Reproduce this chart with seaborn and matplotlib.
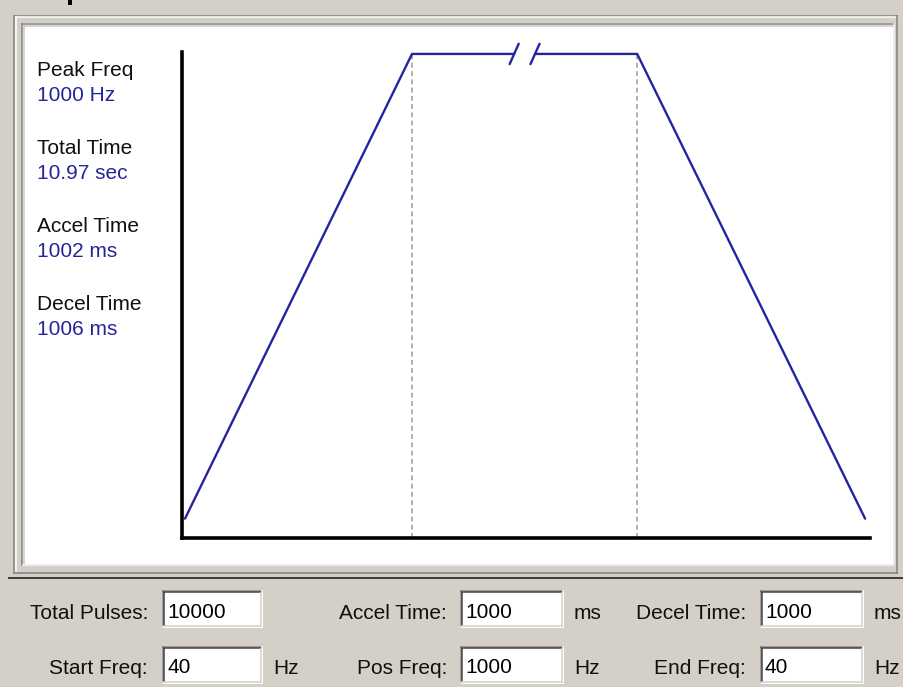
import numpy as np
import pandas as pd
import matplotlib
matplotlib.use("Agg")
import matplotlib.pyplot as plt
import seaborn as sns
from matplotlib.patches import Rectangle
from matplotlib.lines import Line2D

# ---------------- data ----------------
start_freq_hz = 40
peak_freq_hz = 1000
end_freq_hz = 40
accel_time_ms = 1002
decel_time_ms = 1006
plateau_display_ms = 994      # constant-speed span, drawn compressed (axis break)
break_gap_ms = 92

info_labels = ["Peak Freq", "Total Time", "Accel Time", "Decel Time"]
info_values = ["1000 Hz", "10.97 sec", "1002 ms", "1006 ms"]

field_labels = [["Total Pulses:", "Accel Time:", "Decel Time:"],
                ["Start Freq:", "Pos Freq:", "End Freq:"]]
field_values = [["10000", "1000", "1000"],
                ["40", "1000", "40"]]
field_units = [["", "ms", "ms"],
               ["Hz", "Hz", "Hz"]]

# ---------------- style ----------------
sns.set_style("white")
plt.rcParams["font.family"] = ["Liberation Sans", "DejaVu Sans"]
W, H = 904, 687
BG = "#D4D0C8"
LINE_BLUE = "#24249F"
TEXT_BLUE = "#25259A"
FS = 15

fig = plt.figure(figsize=(W / 100, H / 100), dpi=100, facecolor=BG)


def fx(x):
    return x / W


def fy(y):
    return 1 - y / H


def hline(x0, x1, y, color, lw=1.0):
    fig.add_artist(Line2D([fx(x0), fx(x1)], [fy(y), fy(y)], transform=fig.transFigure,
                          color=color, lw=lw * 0.72, solid_capstyle="butt", zorder=-2))


def vline(x, y0, y1, color, lw=1.0):
    fig.add_artist(Line2D([fx(x), fx(x)], [fy(y0), fy(y1)], transform=fig.transFigure,
                          color=color, lw=lw * 0.72, solid_capstyle="butt", zorder=-2))


def rect(x0, y0, x1, y1, color):
    fig.add_artist(Rectangle((fx(x0), fy(y1)), fx(x1) - fx(x0), fy(y0) - fy(y1),
                             transform=fig.transFigure, facecolor=color, edgecolor="none",
                             zorder=-3))


# ---- group frame (etched) ----
hline(14, 898, 15.5, "#808080", 1.5)
vline(14.5, 15, 574, "#808080", 1.5)
hline(15, 898, 17, "#FFFFFF", 1.5)
vline(16, 16, 572, "#FFFFFF", 1.5)
hline(14, 898, 573, "#808080", 1.5)
vline(897, 15, 574, "#808080", 1.5)
# bottom separator
hline(8, 904, 578, "#404040", 2.0)

# ---- sunken white panel ----
rect(22, 23, 895, 566, "#FFFFFF")
hline(22, 895, 23.5, "#808080", 1.5)
vline(22.5, 23, 566, "#808080", 1.5)
hline(24, 893, 25.5, "#C8C8C8", 1.5)
vline(24.5, 25, 564, "#C8C8C8", 1.5)
hline(22, 895, 565, "#E8E8E8", 1.5)
vline(894, 23, 566, "#E8E8E8", 1.5)

# ---------------- profile axes ----------------
px_per_ms = (412 - 185) / accel_time_ms
x_left = -(185 - 182) / px_per_ms
x_right = (870 - 185) / px_per_ms
ax = fig.add_axes([fx(182), fy(538), fx(870) - fx(182), fy(52) - fy(538)])
ax.set_facecolor("none")
ax.set_zorder(5)

t_peak = accel_time_ms
t_flat_end = t_peak + plateau_display_ms
t_mid = (t_peak + t_flat_end) / 2
t_end = t_flat_end + decel_time_ms
gap_l = t_mid - break_gap_ms / 2
gap_r = t_mid + break_gap_ms / 2

df = pd.DataFrame({
    "t": [0, t_peak, gap_l, gap_r, t_flat_end, t_end],
    "freq": [start_freq_hz, peak_freq_hz, peak_freq_hz, peak_freq_hz, peak_freq_hz, end_freq_hz],
    "seg": [0, 0, 0, 1, 1, 1],
})
sns.lineplot(data=df, x="t", y="freq", units="seg", estimator=None, color=LINE_BLUE,
             lw=1.7, ax=ax, legend=False, sort=False)

# dashed markers at end of accel / start of decel
for tx in (t_peak, t_flat_end):
    ax.plot([tx, tx], [0, peak_freq_hz], color="#9A9A9A", lw=1.1, dashes=(3.2, 2.2), zorder=1)

# break slashes
dy = 21
dx = 20
for tx in (gap_l, gap_r):
    ax.plot([tx - dx, tx + dx], [peak_freq_hz - dy, peak_freq_hz + dy], color=LINE_BLUE, lw=1.7,
            clip_on=False)

ax.set_xlim(x_left, x_right)
ax.set_ylim(0, 1004)
ax.set_xticks([])
ax.set_yticks([])
ax.set_xlabel("")
ax.set_ylabel("")
for s in ("top", "right"):
    ax.spines[s].set_visible(False)
for s in ("left", "bottom"):
    ax.spines[s].set_color("black")
    ax.spines[s].set_linewidth(2.6)
    ax.spines[s].set_capstyle("projecting")

# ---------------- info text ----------------
base0 = 76
step = 78
for i, (lab, val) in enumerate(zip(info_labels, info_values)):
    yb = base0 + i * step
    fig.text(fx(37), fy(yb), lab, fontsize=FS, color="#101010", va="baseline", ha="left")
    fig.text(fx(37), fy(yb + 25), val, fontsize=FS, color=TEXT_BLUE, va="baseline", ha="left")

# ---------------- input fields ----------------
row_box = [(590, 628), (646, 684)]
row_base = [619, 674]
col_box = [(162, 263), (460, 564), (760, 864)]
col_label_right = [148, 447, 746]
col_unit_x = [273, 574, 874]

for r in range(2):
    y0, y1 = row_box[r]
    for c in range(3):
        x0, x1 = col_box[c]
        rect(x0, y0, x1, y1, "#FFFFFF")
        # sunken borders
        hline(x0, x1, y0 + 0.75, "#808080", 1.5)
        vline(x0 + 0.75, y0, y1, "#808080", 1.5)
        hline(x0 + 1.5, x1 - 1.5, y0 + 2.25, "#404040", 1.5)
        vline(x0 + 2.25, y0 + 1.5, y1 - 1.5, "#404040", 1.5)
        hline(x0, x1, y1 - 0.75, "#FFFFFF", 1.5)
        vline(x1 - 0.75, y0, y1, "#FFFFFF", 1.5)
        hline(x0 + 1.5, x1 - 1.5, y1 - 2.25, BG, 1.5)
        vline(x1 - 2.25, y0 + 1.5, y1 - 1.5, BG, 1.5)
        fig.text(fx(x0 + 5), fy(row_base[r] - 1), field_values[r][c], fontsize=FS,
                 color="black", va="baseline", ha="left")
        fig.text(fx(col_label_right[c]), fy(row_base[r]), field_labels[r][c], fontsize=FS,
                 color="#101010", va="baseline", ha="right")
        if field_units[r][c]:
            fig.text(fx(col_unit_x[c]), fy(row_base[r]), field_units[r][c], fontsize=FS,
                     color="#101010", va="baseline", ha="left")

# cropped heading glyph remnant at top edge
rect(68, 0, 72, 5, "#000000")

fig.savefig("out.png", dpi=100, facecolor=BG)
